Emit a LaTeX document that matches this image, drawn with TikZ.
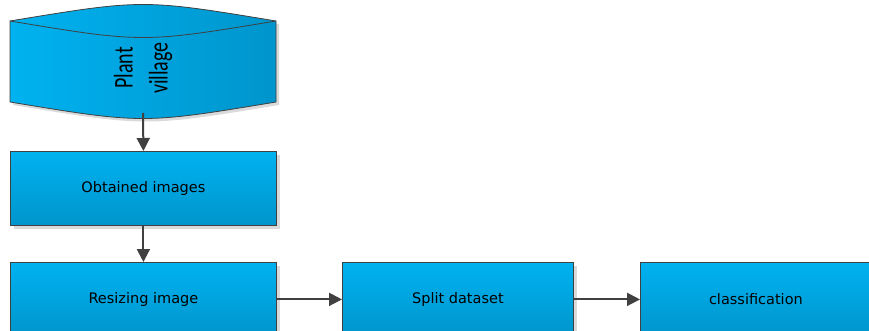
\documentclass[tikz,border=0pt]{standalone}
\usepackage{fontspec}
\setmainfont{DejaVu Sans}
\newfontfamily\cylfont{Carlito}
\usetikzlibrary{arrows.meta,shadings}
\definecolor{boxtop}{HTML}{00B2F0}
\definecolor{boxbot}{HTML}{0095CC}
\definecolor{edge}{HTML}{404040}
\definecolor{shadowc}{HTML}{DADADA}
\tikzset{
  flowbox/.style={draw=edge, line width=0.8pt, top color=boxtop, bottom color=boxbot,
    minimum width=266pt, minimum height=74pt, inner sep=0pt, anchor=north west,
    font=\fontsize{14.5}{17}\selectfont, text=black},
  shadowbox/.style={fill=shadowc, draw=none, minimum width=266pt, minimum height=74pt,
    inner sep=0pt, anchor=north west},
  conn/.style={draw=edge, line width=2pt, -{Triangle[length=13pt,width=13pt]}}
}
\begin{document}
\begin{tikzpicture}[x=1pt,y=-1pt]
\useasboundingbox (0,0) rectangle (869,331);
\clip (0,0) rectangle (869,331);
% cylinder shadow
\fill[shadowc] (13,24) .. controls (146,2) .. (279,24) -- (279,105) .. controls (146,127) .. (13,105) -- cycle;
% cylinder body
\path[left color=boxtop, right color=boxbot, draw=edge, line width=0.8pt]
  (10,21) .. controls (143,-1) .. (276,21) -- (276,102) .. controls (143,124) .. (10,102) -- cycle;
\draw[edge, line width=0.8pt] (10,21) .. controls (143,43) .. (276,21);
\node[rotate=90, align=center, font=\cylfont\fontsize{20}{35}\selectfont, text=black] (db) at (143,68)
  {\scalebox{1}[1.35]{Plant}\\\scalebox{1}[1.35]{village}};
\coordinate (dbbot) at (143,113);
% shadows
\node[shadowbox] at (14,155) {};
\node[shadowbox] at (14,266) {};
\node[shadowbox, minimum width=231pt] at (346,266) {};
\node[shadowbox, minimum width=231pt] at (644,266) {};
% boxes
\node[flowbox] (obt) at (10,151) {Obtained images};
\node[flowbox] (res) at (10,262) {Resizing image};
\node[flowbox, minimum width=231pt] (spl) at (342,262) {Split dataset};
\node[flowbox, minimum width=231pt] (cls) at (640,262) {classification};
% connectors
\draw[conn] (dbbot) -- (obt.north);
\draw[conn] (obt.south) -- (res.north);
\draw[conn] (res.east) -- (spl.west);
\draw[conn] (spl.east) -- (cls.west);
\end{tikzpicture}
\end{document}
